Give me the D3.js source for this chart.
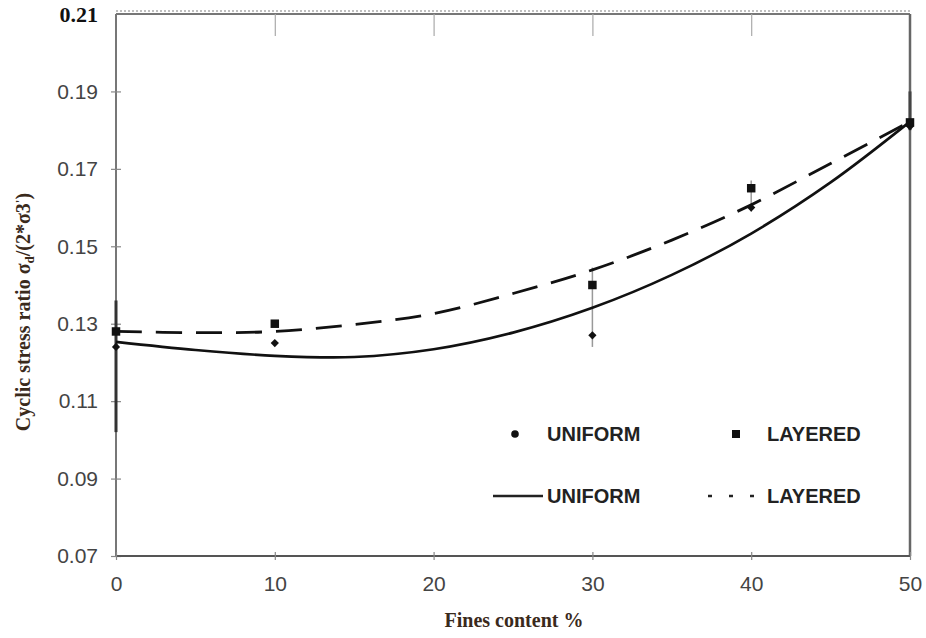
<!DOCTYPE html>
<html>
<head>
<meta charset="utf-8">
<script src="https://cdn.jsdelivr.net/npm/d3@7"></script>
<style>
  html, body { margin: 0; padding: 0; background: #fff; }
  svg { display: block; }
</style>
</head>
<body>
<svg id="chart" width="926" height="638"></svg>
<script>
// ---- data ----
const pointX = [0, 10, 30, 40, 50];
const uniformPts = [0.124, 0.125, 0.127, 0.160, 0.181];
const layeredPts = [0.128, 0.130, 0.140, 0.165, 0.182];

const curveX = [0, 5, 10, 15, 20, 25, 30, 35, 40, 45, 50];
const uniformFit = [0.1253, 0.1232, 0.1217, 0.1214, 0.1234, 0.1277, 0.1341, 0.1426, 0.1533, 0.1665, 0.1822];
const layeredFit = [0.1280, 0.1277, 0.1280, 0.1298, 0.1326, 0.1378, 0.1439, 0.1516, 0.1607, 0.1714, 0.1822];

const errX = [0, 30, 40, 50];
const errLo = [0.102, 0.124, 0.159, 0.180];
const errHi = [0.136, 0.1445, 0.167, 0.190];

const xTicks = [0, 10, 20, 30, 40, 50];
const yTicks = [0.07, 0.09, 0.11, 0.13, 0.15, 0.17, 0.19];
const yTopTick = 0.21;

const xTitle = "Fines content %";
const legendLabels = ["UNIFORM", "LAYERED"];

// ---- layout ----
const svg = d3.select("#chart");
const x = d3.scaleLinear().domain([0, 50]).range([116, 910]);
const y = d3.scaleLinear().domain([0.07, 0.21]).range([556, 14]);

// top dotted line + frame
svg.append("line").attr("x1", x(0)).attr("x2", x(50)).attr("y1", y(0.21) - 3).attr("y2", y(0.21) - 3)
  .attr("stroke", "#aaa").attr("stroke-width", 1.5).attr("stroke-dasharray", "2,2");
svg.append("line").attr("x1", x(0)).attr("x2", x(50)).attr("y1", y(0.21)).attr("y2", y(0.21))
  .attr("stroke", "#777").attr("stroke-width", 2);
svg.append("line").attr("x1", x(50)).attr("x2", x(50)).attr("y1", y(0.21)).attr("y2", y(0.07))
  .attr("stroke", "#666").attr("stroke-width", 2.5);

// faint top ticks
const topAxis = svg.append("g").attr("transform", `translate(0,${y(0.21)})`)
  .call(d3.axisTop(x).tickValues([10, 20, 30, 40]).tickSize(-22).tickFormat(""));
topAxis.select(".domain").remove();
topAxis.selectAll(".tick line").attr("stroke", "#aaa").attr("stroke-width", 1.2);

// y axis
const yAxis = svg.append("g").attr("transform", `translate(${x(0)},0)`)
  .call(d3.axisLeft(y).tickValues(yTicks).tickFormat(d3.format(".2f")).tickSize(5).tickPadding(13));
yAxis.select(".domain").attr("stroke", "#777").attr("stroke-width", 2).attr("d", `M0,${y(0.21)}V${y(0.07)}`);
yAxis.selectAll(".tick line").attr("x1", -5).attr("x2", 5).attr("stroke", "#888").attr("stroke-width", 1.2);
yAxis.selectAll(".tick text").attr("font-family", "Liberation Sans, Arial, sans-serif")
  .attr("font-size", 21).attr("fill", "#444");

// 0.21 label (bold serif)
svg.append("text").attr("x", x(0) - 18).attr("y", y(yTopTick)).attr("dy", "0.35em")
  .attr("text-anchor", "end").attr("font-family", "Liberation Serif, Times New Roman, serif")
  .attr("font-weight", "bold").attr("font-size", 22).attr("fill", "#111")
  .text(d3.format(".2f")(yTopTick));

// x axis
const xAxis = svg.append("g").attr("transform", `translate(0,${y(0.07)})`)
  .call(d3.axisBottom(x).tickValues(xTicks).tickFormat(d3.format("d")).tickSize(5).tickPadding(15));
xAxis.select(".domain").attr("stroke", "#555").attr("stroke-width", 2).attr("d", `M${x(0)},0H${x(50)}`);
xAxis.selectAll(".tick line").attr("y1", -4).attr("y2", 4).attr("stroke", "#888").attr("stroke-width", 1.2);
xAxis.selectAll(".tick text").attr("font-family", "Liberation Sans, Arial, sans-serif")
  .attr("font-size", 21).attr("fill", "#444");

// axis titles
svg.append("text").attr("x", 514).attr("y", 627).attr("text-anchor", "middle")
  .attr("font-family", "Liberation Serif, Times New Roman, serif").attr("font-weight", "bold")
  .attr("font-size", 20).attr("fill", "#3a2a1c").text(xTitle);

const yt = svg.append("text").attr("transform", "translate(30,312) rotate(-90)")
  .attr("text-anchor", "middle").attr("font-family", "Liberation Serif, Times New Roman, serif")
  .attr("font-weight", "bold").attr("font-size", 20).attr("fill", "#3a2a1c");
yt.append("tspan").text("Cyclic stress ratio σ");
yt.append("tspan").attr("font-size", 13).attr("dy", 4).text("d");
yt.append("tspan").attr("dy", -4).text("/(2*σ3")
yt.append("tspan").attr("font-size", 13).attr("dy", -6).text("'");
yt.append("tspan").attr("dy", 6).text(")");

// error bars
const errG = svg.append("g");
errX.forEach((xv, i) => {
  errG.append("line").attr("x1", x(xv)).attr("x2", x(xv)).attr("y1", y(errLo[i])).attr("y2", y(errHi[i]))
    .attr("stroke", i === 0 ? "#333" : (i === 3 ? "#444" : "#999"))
    .attr("stroke-width", i === 0 || i === 3 ? 3 : 1.5);
});

// fit curves
const lineGen = d3.line().x((d, i) => x(curveX[i])).y(d => y(d)).curve(d3.curveCatmullRom.alpha(0.5));
svg.append("path").attr("d", lineGen(uniformFit)).attr("fill", "none")
  .attr("stroke", "#111").attr("stroke-width", 2.6);
svg.append("path").attr("d", lineGen(layeredFit)).attr("fill", "none")
  .attr("stroke", "#111").attr("stroke-width", 2.8).attr("stroke-dasharray", "26,14");

// points
const diamond = d3.symbol().type(d3.symbolSquare).size(34);
const square = d3.symbol().type(d3.symbolSquare).size(72);
svg.append("g").selectAll("path").data(uniformPts).join("path")
  .attr("transform", (d, i) => `translate(${x(pointX[i])},${y(d)}) rotate(45)`)
  .attr("d", diamond).attr("fill", "#111");
svg.append("g").selectAll("path").data(layeredPts).join("path")
  .attr("transform", (d, i) => `translate(${x(pointX[i])},${y(d)})`)
  .attr("d", square).attr("fill", "#111");

// legend
const lg = svg.append("g").attr("font-family", "Liberation Sans, Arial, sans-serif")
  .attr("font-weight", "bold").attr("font-size", 20).attr("fill", "#222");
lg.append("circle").attr("cx", 515).attr("cy", 434).attr("r", 3.8).attr("fill", "#111");
lg.append("text").attr("x", 547).attr("y", 434).attr("dy", "0.36em").text(legendLabels[0]);
lg.append("rect").attr("x", 732).attr("y", 430).attr("width", 8).attr("height", 8).attr("fill", "#111");
lg.append("text").attr("x", 767).attr("y", 434).attr("dy", "0.36em").text(legendLabels[1]);
lg.append("line").attr("x1", 493).attr("x2", 543).attr("y1", 496).attr("y2", 496)
  .attr("stroke", "#222").attr("stroke-width", 2.5);
lg.append("text").attr("x", 547).attr("y", 496).attr("dy", "0.36em").text(legendLabels[0]);
lg.append("line").attr("x1", 708).attr("x2", 756).attr("y1", 496).attr("y2", 496)
  .attr("stroke", "#222").attr("stroke-width", 2.5).attr("stroke-dasharray", "4,17");
lg.append("text").attr("x", 767).attr("y", 496).attr("dy", "0.36em").text(legendLabels[1]);
</script>
</body>
</html>
